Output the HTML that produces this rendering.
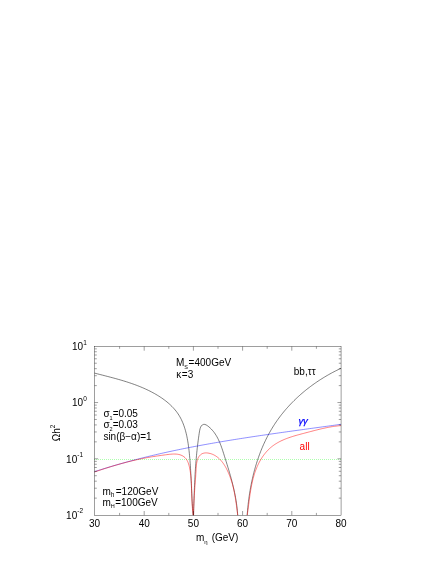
<!DOCTYPE html>
<html><head><meta charset="utf-8"><title>plot</title>
<style>
html,body{margin:0;padding:0;background:#fff;}
svg{display:block;}
text{font-family:"Liberation Sans",sans-serif;}
svg{will-change:transform;}
</style></head><body>
<svg width="436" height="564" viewBox="0 0 436 564">

<line x1="94" y1="459.5" x2="341" y2="459.5" stroke="#00ff00" stroke-width="1" stroke-dasharray="1 1" opacity="0.32"/>
<path d="M94.50 373.10 L96.09 373.51 L97.69 373.92 L99.29 374.33 L100.89 374.73 L102.50 375.14 L104.10 375.55 L105.71 375.97 L107.32 376.38 L108.93 376.80 L110.54 377.22 L112.15 377.65 L113.77 378.09 L115.38 378.53 L116.99 378.97 L118.60 379.43 L120.20 379.89 L121.81 380.36 L123.41 380.84 L125.01 381.33 L126.61 381.84 L128.20 382.35 L129.79 382.88 L131.38 383.42 L132.96 383.97 L134.54 384.54 L136.11 385.12 L137.68 385.72 L139.24 386.33 L140.79 386.96 L142.34 387.61 L143.88 388.28 L145.41 388.97 L146.94 389.67 L148.45 390.40 L149.96 391.14 L151.46 391.91 L152.95 392.71 L154.43 393.52 L155.90 394.36 L157.35 395.22 L158.79 396.11 L160.21 397.02 L161.61 397.95 L162.99 398.91 L164.35 399.90 L165.68 400.91 L166.98 401.95 L168.26 403.02 L169.50 404.11 L170.71 405.23 L171.89 406.39 L173.02 407.57 L174.12 408.77 L175.18 410.01 L176.20 411.28 L177.18 412.58 L178.10 413.91 L178.98 415.27 L179.81 416.66 L180.60 418.08 L181.34 419.53 L182.03 421.01 L182.68 422.51 L183.30 424.03 L183.87 425.58 L184.41 427.14 L184.91 428.73 L185.38 430.33 L185.82 431.94 L186.23 433.58 L186.61 435.22 L186.96 436.87 L187.28 438.54 L187.59 440.21 L187.87 441.89 L188.13 443.57 L188.37 445.26 L188.60 446.95 L188.81 448.64 L189.01 450.33 L189.19 452.01 L189.36 453.69 L189.53 455.37 L189.68 457.05 L189.83 458.72 L189.97 460.39 L190.10 462.05 L190.22 463.72 L190.33 465.38 L190.44 467.04 L190.54 468.70 L190.64 470.35 L190.73 472.01 L190.82 473.66 L190.91 475.31 L190.99 476.96 L191.07 478.62 L191.14 480.27 L191.22 481.92 L191.29 483.57 L191.37 485.22 L191.44 486.87 L191.51 488.52 L191.59 490.17 L191.67 491.83 L191.74 493.48 L191.83 495.14 L191.91 496.80 L192.00 498.46 L192.09 500.12 L192.19 501.78 L192.29 503.45 L192.40 505.12 L192.51 506.79 L192.63 508.47 L192.76 510.14 L192.90 511.83 L193.05 513.51 L193.20 515.20" fill="none" stroke="#000" stroke-width="0.5" stroke-linejoin="round"/>
<path d="M193.50 515.20 L193.56 513.51 L193.61 511.83 L193.67 510.15 L193.72 508.49 L193.78 506.83 L193.83 505.18 L193.88 503.53 L193.94 501.89 L193.99 500.26 L194.05 498.64 L194.10 497.01 L194.16 495.40 L194.21 493.79 L194.27 492.18 L194.33 490.57 L194.39 488.97 L194.46 487.37 L194.52 485.78 L194.59 484.18 L194.66 482.59 L194.74 481.00 L194.81 479.41 L194.90 477.82 L194.98 476.23 L195.07 474.64 L195.16 473.05 L195.26 471.46 L195.36 469.87 L195.46 468.28 L195.57 466.68 L195.69 465.08 L195.81 463.48 L195.94 461.87 L196.07 460.26 L196.21 458.65 L196.35 457.03 L196.50 455.41 L196.66 453.78 L196.82 452.14 L197.00 450.50 L197.17 448.86 L197.36 447.20 L197.56 445.54 L197.76 443.87 L197.97 442.19 L198.19 440.51 L198.41 438.81 L198.65 437.11 L198.90 435.40 L199.15 433.67 L199.42 431.94 L199.72 430.23 L200.10 428.61 L200.61 427.15 L201.30 425.92 L202.23 424.99 L203.42 424.43 L204.79 424.40 L206.18 424.93 L207.56 425.82 L208.87 426.85 L210.11 427.93 L211.27 429.07 L212.37 430.25 L213.40 431.48 L214.38 432.76 L215.29 434.07 L216.15 435.43 L216.97 436.81 L217.73 438.23 L218.46 439.68 L219.14 441.16 L219.79 442.66 L220.41 444.17 L221.00 445.71 L221.56 447.26 L222.10 448.82 L222.63 450.39 L223.14 451.96 L223.65 453.54 L224.14 455.12 L224.64 456.69 L225.13 458.27 L225.62 459.83 L226.11 461.40 L226.60 462.96 L227.08 464.52 L227.55 466.07 L228.03 467.63 L228.50 469.18 L228.96 470.73 L229.42 472.29 L229.87 473.84 L230.31 475.39 L230.75 476.94 L231.17 478.49 L231.59 480.04 L232.00 481.60 L232.41 483.15 L232.80 484.71 L233.18 486.27 L233.55 487.84 L233.91 489.40 L234.25 490.97 L234.59 492.55 L234.91 494.13 L235.22 495.71 L235.51 497.30 L235.79 498.89 L236.06 500.49 L236.31 502.09 L236.54 503.71 L236.76 505.33 L236.96 506.95 L237.15 508.58 L237.31 510.23 L237.46 511.88 L237.59 513.53 L237.70 515.20" fill="none" stroke="#000" stroke-width="0.5" stroke-linejoin="round"/>
<path d="M247.20 515.20 L247.31 513.67 L247.42 512.14 L247.55 510.60 L247.68 509.07 L247.83 507.53 L247.98 506.00 L248.14 504.46 L248.31 502.92 L248.49 501.38 L248.69 499.85 L248.89 498.31 L249.10 496.77 L249.32 495.24 L249.55 493.70 L249.79 492.17 L250.05 490.64 L250.31 489.11 L250.58 487.58 L250.87 486.05 L251.16 484.52 L251.47 483.00 L251.78 481.48 L252.11 479.96 L252.45 478.44 L252.80 476.92 L253.16 475.41 L253.53 473.90 L253.92 472.40 L254.31 470.90 L254.72 469.40 L255.14 467.90 L255.57 466.41 L256.01 464.93 L256.47 463.44 L256.93 461.97 L257.41 460.49 L257.91 459.03 L258.41 457.56 L258.93 456.10 L259.46 454.65 L260.00 453.20 L260.55 451.76 L261.12 450.33 L261.70 448.90 L262.30 447.48 L262.90 446.06 L263.53 444.65 L264.16 443.24 L264.81 441.85 L265.47 440.46 L266.14 439.08 L266.83 437.70 L267.53 436.34 L268.25 434.98 L268.98 433.62 L269.73 432.28 L270.49 430.95 L271.26 429.62 L272.05 428.30 L272.85 426.99 L273.67 425.70 L274.50 424.40 L275.34 423.12 L276.21 421.85 L277.08 420.59 L277.97 419.34 L278.88 418.10 L279.79 416.86 L280.73 415.64 L281.67 414.43 L282.63 413.22 L283.60 412.03 L284.59 410.85 L285.59 409.67 L286.60 408.51 L287.62 407.36 L288.66 406.21 L289.70 405.08 L290.76 403.96 L291.84 402.85 L292.92 401.74 L294.01 400.65 L295.12 399.57 L296.24 398.50 L297.37 397.45 L298.51 396.40 L299.66 395.36 L300.82 394.34 L301.99 393.32 L303.17 392.32 L304.36 391.32 L305.56 390.34 L306.77 389.37 L307.99 388.41 L309.22 387.47 L310.45 386.53 L311.70 385.61 L312.95 384.69 L314.22 383.79 L315.49 382.90 L316.77 382.02 L318.06 381.16 L319.35 380.30 L320.66 379.46 L321.97 378.63 L323.29 377.81 L324.61 377.01 L325.94 376.21 L327.28 375.43 L328.63 374.66 L329.98 373.90 L331.34 373.16 L332.70 372.43 L334.07 371.71 L335.45 371.00 L336.83 370.31 L338.21 369.62 L339.60 368.96 L341.00 368.30" fill="none" stroke="#000" stroke-width="0.5" stroke-linejoin="round"/>
<path d="M94.50 471.70 L96.51 471.04 L98.53 470.39 L100.54 469.75 L102.56 469.11 L104.58 468.48 L106.60 467.86 L108.62 467.24 L110.65 466.63 L112.67 466.03 L114.70 465.43 L116.73 464.84 L118.76 464.26 L120.79 463.68 L122.82 463.11 L124.86 462.54 L126.89 461.98 L128.93 461.43 L130.97 460.88 L133.01 460.34 L135.05 459.80 L137.10 459.27 L139.14 458.75 L141.19 458.23 L143.23 457.72 L145.28 457.21 L147.33 456.71 L149.38 456.21 L151.43 455.72 L153.49 455.23 L155.54 454.75 L157.60 454.27 L159.65 453.80 L161.71 453.33 L163.77 452.87 L165.83 452.42 L167.89 451.96 L169.96 451.52 L172.02 451.07 L174.08 450.63 L176.15 450.20 L178.22 449.77 L180.28 449.34 L182.35 448.92 L184.42 448.51 L186.49 448.09 L188.56 447.69 L190.64 447.28 L192.71 446.88 L194.78 446.48 L196.86 446.09 L198.93 445.70 L201.01 445.31 L203.09 444.93 L205.17 444.55 L207.25 444.18 L209.32 443.81 L211.40 443.44 L213.49 443.07 L215.57 442.71 L217.65 442.35 L219.73 442.00 L221.82 441.64 L223.90 441.29 L225.98 440.95 L228.07 440.60 L230.16 440.26 L232.24 439.92 L234.33 439.58 L236.42 439.25 L238.50 438.92 L240.59 438.59 L242.68 438.26 L244.77 437.94 L246.86 437.62 L248.95 437.30 L251.04 436.98 L253.13 436.66 L255.22 436.35 L257.31 436.04 L259.40 435.73 L261.49 435.42 L263.59 435.11 L265.68 434.80 L267.77 434.50 L269.86 434.20 L271.96 433.90 L274.05 433.60 L276.14 433.30 L278.24 433.00 L280.33 432.70 L282.42 432.41 L284.52 432.11 L286.61 431.82 L288.70 431.53 L290.80 431.24 L292.89 430.95 L294.98 430.66 L297.08 430.37 L299.17 430.08 L301.26 429.79 L303.36 429.50 L305.45 429.21 L307.54 428.92 L309.64 428.64 L311.73 428.35 L313.82 428.06 L315.91 427.77 L318.01 427.49 L320.10 427.20 L322.19 426.91 L324.28 426.62 L326.37 426.33 L328.46 426.05 L330.55 425.76 L332.64 425.47 L334.73 425.18 L336.82 424.88 L338.91 424.59 L341.00 424.30" fill="none" stroke="#0000ff" stroke-width="0.44" stroke-linejoin="round"/>
<path d="M94.50 472.00 L95.69 471.59 L96.89 471.18 L98.10 470.77 L99.30 470.37 L100.51 469.96 L101.72 469.56 L102.94 469.17 L104.16 468.77 L105.38 468.38 L106.60 467.99 L107.83 467.61 L109.05 467.22 L110.29 466.84 L111.52 466.47 L112.75 466.09 L113.99 465.72 L115.23 465.36 L116.47 465.00 L117.71 464.64 L118.96 464.29 L120.20 463.94 L121.45 463.59 L122.69 463.25 L123.94 462.91 L125.19 462.58 L126.44 462.26 L127.69 461.93 L128.94 461.62 L130.19 461.31 L131.44 461.00 L132.70 460.70 L133.95 460.40 L135.20 460.11 L136.45 459.83 L137.70 459.55 L138.95 459.27 L140.20 459.01 L141.45 458.75 L142.70 458.49 L143.94 458.24 L145.19 458.00 L146.43 457.77 L147.68 457.54 L148.92 457.32 L150.16 457.10 L151.40 456.89 L152.64 456.69 L153.88 456.50 L155.12 456.30 L156.37 456.12 L157.63 455.93 L158.90 455.75 L160.17 455.56 L161.46 455.38 L162.77 455.20 L164.09 455.02 L165.42 454.83 L166.78 454.65 L168.14 454.47 L169.51 454.31 L170.87 454.18 L172.23 454.09 L173.57 454.04 L174.90 454.04 L176.20 454.10 L177.47 454.23 L178.70 454.44 L179.88 454.74 L181.02 455.13 L182.11 455.61 L183.13 456.19 L184.08 456.86 L184.97 457.62 L185.77 458.47 L186.48 459.41 L187.11 460.43 L187.67 461.52 L188.15 462.68 L188.57 463.88 L188.94 465.12 L189.26 466.39 L189.54 467.68 L189.80 468.98 L190.04 470.27 L190.25 471.57 L190.45 472.86 L190.62 474.15 L190.78 475.45 L190.92 476.74 L191.05 478.03 L191.16 479.32 L191.26 480.61 L191.34 481.90 L191.42 483.19 L191.48 484.48 L191.54 485.77 L191.59 487.05 L191.64 488.34 L191.68 489.63 L191.71 490.91 L191.75 492.20 L191.78 493.48 L191.81 494.76 L191.84 496.05 L191.87 497.33 L191.91 498.61 L191.95 499.89 L192.00 501.17 L192.05 502.45 L192.11 503.73 L192.18 505.00 L192.26 506.28 L192.35 507.56 L192.46 508.83 L192.57 510.11 L192.71 511.38 L192.85 512.66 L193.02 513.93 L193.20 515.20" fill="none" stroke="#ff0000" stroke-width="0.5" stroke-linejoin="round"/>
<path d="M193.60 515.20 L193.61 513.87 L193.62 512.56 L193.63 511.26 L193.66 509.99 L193.68 508.73 L193.72 507.48 L193.76 506.25 L193.80 505.03 L193.85 503.82 L193.90 502.62 L193.95 501.43 L194.01 500.25 L194.08 499.08 L194.14 497.92 L194.21 496.76 L194.28 495.61 L194.36 494.47 L194.44 493.32 L194.52 492.18 L194.60 491.04 L194.68 489.90 L194.76 488.76 L194.85 487.61 L194.93 486.47 L195.02 485.32 L195.11 484.17 L195.20 483.01 L195.28 481.85 L195.37 480.67 L195.46 479.49 L195.54 478.31 L195.63 477.11 L195.71 475.90 L195.79 474.67 L195.87 473.44 L195.95 472.19 L196.03 470.92 L196.10 469.64 L196.17 468.35 L196.26 467.05 L196.36 465.75 L196.49 464.47 L196.66 463.21 L196.88 461.97 L197.15 460.77 L197.49 459.61 L197.91 458.51 L198.41 457.48 L198.99 456.51 L199.67 455.63 L200.43 454.86 L201.28 454.20 L202.21 453.67 L203.22 453.29 L204.30 453.04 L205.44 452.92 L206.62 452.92 L207.81 453.02 L209.02 453.23 L210.21 453.51 L211.37 453.87 L212.50 454.29 L213.59 454.78 L214.64 455.33 L215.66 455.93 L216.64 456.58 L217.58 457.29 L218.49 458.04 L219.37 458.84 L220.21 459.68 L221.02 460.56 L221.80 461.48 L222.55 462.43 L223.27 463.41 L223.97 464.42 L224.63 465.46 L225.27 466.52 L225.88 467.60 L226.47 468.69 L227.03 469.80 L227.57 470.92 L228.09 472.06 L228.59 473.19 L229.06 474.33 L229.52 475.47 L229.95 476.62 L230.37 477.75 L230.77 478.89 L231.15 480.03 L231.51 481.17 L231.86 482.31 L232.19 483.45 L232.51 484.59 L232.81 485.74 L233.10 486.88 L233.38 488.02 L233.65 489.17 L233.90 490.32 L234.14 491.47 L234.38 492.62 L234.60 493.77 L234.81 494.93 L235.02 496.09 L235.22 497.25 L235.41 498.42 L235.59 499.59 L235.77 500.76 L235.94 501.94 L236.11 503.12 L236.28 504.30 L236.44 505.49 L236.60 506.69 L236.76 507.89 L236.91 509.09 L237.07 510.30 L237.23 511.52 L237.38 512.74 L237.54 513.97 L237.70 515.20" fill="none" stroke="#ff0000" stroke-width="0.5" stroke-linejoin="round"/>
<path d="M247.20 515.20 L247.38 514.00 L247.56 512.80 L247.73 511.60 L247.90 510.39 L248.06 509.17 L248.22 507.95 L248.39 506.73 L248.55 505.50 L248.70 504.27 L248.86 503.04 L249.02 501.80 L249.19 500.57 L249.35 499.33 L249.52 498.09 L249.69 496.85 L249.86 495.60 L250.04 494.36 L250.23 493.12 L250.42 491.88 L250.62 490.64 L250.83 489.40 L251.05 488.17 L251.27 486.93 L251.51 485.70 L251.75 484.47 L252.01 483.25 L252.28 482.02 L252.56 480.80 L252.86 479.59 L253.16 478.38 L253.49 477.17 L253.83 475.97 L254.18 474.78 L254.55 473.59 L254.94 472.41 L255.35 471.24 L255.78 470.07 L256.22 468.91 L256.69 467.76 L257.17 466.61 L257.68 465.48 L258.21 464.35 L258.76 463.23 L259.34 462.13 L259.93 461.03 L260.55 459.95 L261.20 458.89 L261.86 457.83 L262.55 456.80 L263.26 455.78 L263.99 454.78 L264.74 453.81 L265.52 452.85 L266.32 451.91 L267.14 451.00 L267.98 450.11 L268.85 449.25 L269.74 448.41 L270.65 447.60 L271.58 446.82 L272.53 446.07 L273.51 445.35 L274.51 444.66 L275.53 443.99 L276.56 443.35 L277.61 442.73 L278.68 442.13 L279.77 441.56 L280.87 441.01 L281.99 440.48 L283.12 439.97 L284.26 439.48 L285.41 439.01 L286.58 438.56 L287.75 438.12 L288.93 437.69 L290.12 437.28 L291.32 436.88 L292.52 436.50 L293.73 436.12 L294.95 435.76 L296.17 435.41 L297.39 435.06 L298.61 434.72 L299.83 434.38 L301.05 434.06 L302.28 433.73 L303.50 433.41 L304.71 433.09 L305.93 432.78 L307.14 432.46 L308.34 432.14 L309.54 431.83 L310.74 431.51 L311.93 431.20 L313.12 430.89 L314.31 430.58 L315.50 430.27 L316.68 429.97 L317.87 429.67 L319.06 429.38 L320.24 429.09 L321.43 428.81 L322.62 428.54 L323.81 428.27 L325.00 428.01 L326.20 427.76 L327.40 427.52 L328.60 427.29 L329.81 427.06 L331.03 426.85 L332.25 426.65 L333.47 426.46 L334.71 426.28 L335.95 426.12 L337.20 425.97 L338.46 425.83 L339.72 425.71 L341.00 425.60" fill="none" stroke="#ff0000" stroke-width="0.5" stroke-linejoin="round"/>
<rect x="94.50" y="346.50" width="246.55" height="168.70" fill="none" stroke="#000" stroke-width="0.38"/>
<path d="M119.60 515.20 v-2.30 M119.60 346.50 v2.30 M144.20 515.20 v-4.20 M144.20 346.50 v4.20 M168.80 515.20 v-2.30 M168.80 346.50 v2.30 M193.40 515.20 v-4.20 M193.40 346.50 v4.20 M218.00 515.20 v-2.30 M218.00 346.50 v2.30 M242.60 515.20 v-4.20 M242.60 346.50 v4.20 M267.20 515.20 v-2.30 M267.20 346.50 v2.30 M291.80 515.20 v-4.20 M291.80 346.50 v4.20 M316.40 515.20 v-2.30 M316.40 346.50 v2.30 M94.50 498.12 h2.30 M341.05 498.12 h-2.30 M94.50 488.21 h2.30 M341.05 488.21 h-2.30 M94.50 481.18 h2.30 M341.05 481.18 h-2.30 M94.50 475.73 h2.30 M341.05 475.73 h-2.30 M94.50 471.28 h2.30 M341.05 471.28 h-2.30 M94.50 467.51 h2.30 M341.05 467.51 h-2.30 M94.50 464.25 h2.30 M341.05 464.25 h-2.30 M94.50 461.37 h2.30 M341.05 461.37 h-2.30 M94.50 458.80 h3.60 M341.05 458.80 h-3.60 M94.50 441.87 h2.30 M341.05 441.87 h-2.30 M94.50 431.96 h2.30 M341.05 431.96 h-2.30 M94.50 424.93 h2.30 M341.05 424.93 h-2.30 M94.50 419.48 h2.30 M341.05 419.48 h-2.30 M94.50 415.03 h2.30 M341.05 415.03 h-2.30 M94.50 411.26 h2.30 M341.05 411.26 h-2.30 M94.50 408.00 h2.30 M341.05 408.00 h-2.30 M94.50 405.12 h2.30 M341.05 405.12 h-2.30 M94.50 402.55 h3.60 M341.05 402.55 h-3.60 M94.50 385.62 h2.30 M341.05 385.62 h-2.30 M94.50 375.71 h2.30 M341.05 375.71 h-2.30 M94.50 368.68 h2.30 M341.05 368.68 h-2.30 M94.50 363.23 h2.30 M341.05 363.23 h-2.30 M94.50 358.78 h2.30 M341.05 358.78 h-2.30 M94.50 355.01 h2.30 M341.05 355.01 h-2.30 M94.50 351.75 h2.30 M341.05 351.75 h-2.30 M94.50 348.87 h2.30 M341.05 348.87 h-2.30" stroke="#000" stroke-width="0.38" fill="none"/>
<text x="72.0" y="350.0" text-anchor="start" fill="#000" font-size="10" >10<tspan dy="-5.4" font-size="6.5">1</tspan></text>
<text x="72.0" y="406.2" text-anchor="start" fill="#000" font-size="10" >10<tspan dy="-5.4" font-size="6.5">0</tspan></text>
<text x="66.1" y="462.5" text-anchor="start" fill="#000" font-size="10" >10<tspan dy="-5.4" font-size="6.5">-1</tspan></text>
<text x="66.1" y="518.8" text-anchor="start" fill="#000" font-size="10" >10<tspan dy="-5.4" font-size="6.5">-2</tspan></text>
<text x="94.5" y="527.1" text-anchor="middle" fill="#000" font-size="10" >30</text>
<text x="144.2" y="527.1" text-anchor="middle" fill="#000" font-size="10" >40</text>
<text x="193.4" y="527.1" text-anchor="middle" fill="#000" font-size="10" >50</text>
<text x="242.6" y="527.1" text-anchor="middle" fill="#000" font-size="10" >60</text>
<text x="291.8" y="527.1" text-anchor="middle" fill="#000" font-size="10" >70</text>
<text x="341.0" y="527.1" text-anchor="middle" fill="#000" font-size="10" >80</text>
<text x="196.0" y="541.0" text-anchor="start" fill="#000" font-size="10" >m<tspan dy="3.0" font-size="6">η</tspan><tspan dy="-3.0" dx="1.2"> (GeV)</tspan></text>
<text transform="translate(59.9,441.2) rotate(-90)" font-size="10">Ωh<tspan dy="-5.4" font-size="6.5">2</tspan></text>
<text x="175.9" y="366.0" text-anchor="start" fill="#000" font-size="10" >M<tspan dy="2.6" font-size="5.5">S</tspan><tspan dy="-2.6" dx="0.7">=400GeV</tspan></text>
<text x="176.2" y="377.5" text-anchor="start" fill="#000" font-size="10" >κ<tspan dx="0.6">=3</tspan></text>
<text x="103.4" y="416.9" text-anchor="start" fill="#000" font-size="10" >σ<tspan dy="2.6" font-size="5.5">1</tspan><tspan dy="-2.6" dx="0">=0.05</tspan></text>
<text x="103.4" y="428.4" text-anchor="start" fill="#000" font-size="10" >σ<tspan dy="2.6" font-size="5.5">2</tspan><tspan dy="-2.6" dx="0">=0.03</tspan></text>
<text x="103.4" y="439.6" text-anchor="start" fill="#000" font-size="10" >sin(β−α)=1</text>
<text x="102.5" y="494.7" text-anchor="start" fill="#000" font-size="10" >m<tspan dy="2.6" font-size="6.5">h</tspan><tspan dy="-2.6" dx="1.3">=120GeV</tspan></text>
<text x="102.5" y="505.7" text-anchor="start" fill="#000" font-size="10" >m<tspan dy="2.6" font-size="5.5">H</tspan><tspan dy="-2.6" dx="0.4">=100GeV</tspan></text>
<text x="293.8" y="375.2" text-anchor="start" fill="#000" font-size="10" >bb,ττ</text>
<text x="298.6" y="424.0" text-anchor="start" fill="#0000ff" font-size="9.6" font-style="italic" letter-spacing="-0.5" stroke="#0000ff" stroke-width="0.25">γγ</text>
<text x="299.6" y="449.5" text-anchor="start" fill="#ff0000" font-size="10" >all</text>
</svg>
</body></html>
